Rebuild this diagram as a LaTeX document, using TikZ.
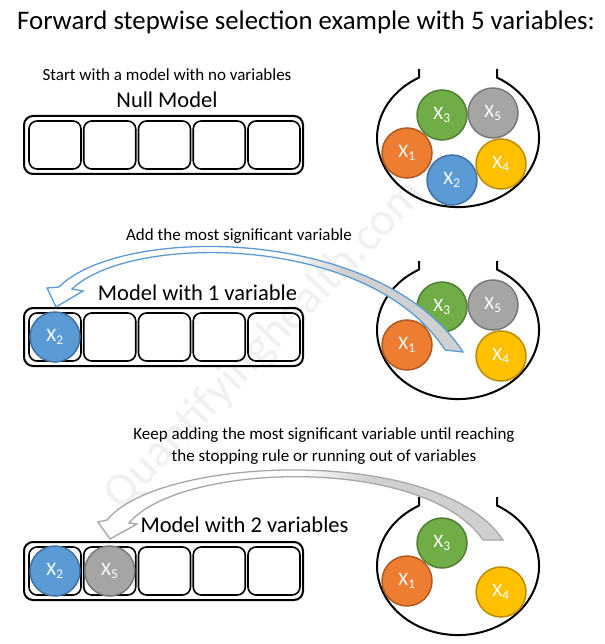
\documentclass[tikz,border=0pt]{standalone}
\usepackage{fontspec}
\setmainfont{Carlito}
\definecolor{xorange}{HTML}{ED7D31}\definecolor{xorangeD}{HTML}{AE5A21}
\definecolor{xblue}{HTML}{5B9BD5}\definecolor{xblueD}{HTML}{41719C}
\definecolor{xgreen}{HTML}{70AD47}\definecolor{xgreenD}{HTML}{507E32}
\definecolor{xgray}{HTML}{A5A5A5}\definecolor{xgrayD}{HTML}{787878}
\definecolor{xyellow}{HTML}{FFC000}\definecolor{xyellowD}{HTML}{BC8C00}
\definecolor{bandgray}{HTML}{D0D0D0}\definecolor{arrgray}{HTML}{A6A6A6}
\tikzset{
  ball/.style={circle, minimum size=50pt, inner sep=0pt, line width=1.5pt, text=white, font=\fontsize{19}{19}\selectfont},
  bx1/.style={ball, fill=xorange, draw=xorangeD},
  bx2/.style={ball, fill=xblue, draw=xblueD},
  bx3/.style={ball, fill=xgreen, draw=xgreenD},
  bx4/.style={ball, fill=xyellow, draw=xyellowD},
  bx5/.style={ball, fill=xgray, draw=xgrayD},
  outerbar/.style={draw, line width=2pt, rounded corners=9pt, minimum width=279pt, minimum height=58pt, inner sep=0pt},
  cell/.style={draw, line width=1.6pt, rounded corners=8pt, minimum width=52pt, minimum height=48pt, inner sep=0pt},
  bagline/.style={line width=2pt},
  smalltxt/.style={inner sep=0pt, font=\fontsize{17}{17}\selectfont},
  modeltxt/.style={inner sep=0pt, font=\fontsize{22.5}{22.5}\selectfont},
}
\begin{document}
\begin{tikzpicture}[x=1pt,y=-1pt]
\useasboundingbox (0,0) rectangle (604,644);
% watermark
\node[rotate=46, text=black!6, inner sep=0pt, font=\fontsize{47}{47}\selectfont] (wm) at (265,345) {Quantifyinghealth.com};
% title and texts
\node[inner sep=0pt, font=\fontsize{26.8}{26.8}\selectfont] (title) at (306,22) {Forward stepwise selection example with 5 variables:};
\node[smalltxt] (t1) at (167,75) {Start with a model with no variables};
\node[modeltxt] (m1lab) at (167,100) {Null Model};
\node[smalltxt] (t2) at (239,236) {Add the most significant variable};
\node[modeltxt] (m2lab) at (197.5,293) {Model with 1 variable};
\node[smalltxt] (t3a) at (324,435) {Keep adding the most significant variable until reaching};
\node[smalltxt] (t3b) at (324,457) {the stopping rule or running out of variables};
\node[modeltxt] (m3lab) at (244.5,525) {Model with 2 variables};
% bars
\foreach \r/\yc in {1/145, 2/337, 3/571}{
  \node[outerbar] (bar\r) at (163.5,\yc) {};
  \foreach \i in {0,...,4}{
    \node[cell] (bar\r c\i) at ({55+54.75*\i},\yc) {};
  }
}
\node[bx2] (s2x2) at (55,337) {X\textsubscript{2}};
\node[bx2] (s3x2) at (55,571) {X\textsubscript{2}};
\node[bx5] (s3x5) at (109.75,571) {X\textsubscript{5}};
% bags
\foreach \d in {0,192,428}{
  \draw[bagline] (419,69+\d) -- (419,77.6+\d) arc[start angle=241.2, end angle=-61.2, x radius=81, y radius=69] -- (497,69+\d);
}
% bag 1
\node[bx3] (a1x3) at (442,115) {X\textsubscript{3}};
\node[bx5] (a1x5) at (493,113) {X\textsubscript{5}};
\node[bx1] (a1x1) at (407,153) {X\textsubscript{1}};
\node[bx2] (a1x2) at (452,180) {X\textsubscript{2}};
\node[bx4] (a1x4) at (501,164) {X\textsubscript{4}};
% bag 2
\node[bx3] (a2x3) at (442,307) {X\textsubscript{3}};
\node[bx5] (a2x5) at (493,305) {X\textsubscript{5}};
\node[bx1] (a2x1) at (407,345) {X\textsubscript{1}};
\node[bx4] (a2x4) at (501,356) {X\textsubscript{4}};
% bag 3
\node[bx3] (a3x3) at (442,543) {X\textsubscript{3}};
\node[bx1] (a3x1) at (407,581) {X\textsubscript{1}};
\node[bx4] (a3x4) at (501,592) {X\textsubscript{4}};
% arrow 1
\path[save path=\arrA] (463,352) .. controls (380,225) and (120,225) .. (59,287) -- (47,288) -- (56,307) -- (83,291) -- (72,289) .. controls (130,233) and (370,233) .. (445,350) -- cycle;
\fill[white, use path=\arrA];
\begin{scope}
  \clip[use path=\arrA];
  \shade[left color=white, right color=bandgray] (290,200) rectangle (345,400);
  \fill[bandgray] (344.5,200) rectangle (604,400);
\end{scope}
\draw[xblue, line width=1.3pt, use path=\arrA];
% arrow 2
\path[save path=\arrB] (503,540) .. controls (440,445) and (160,455) .. (107,520) -- (98,522) -- (110,539) -- (137,524) -- (129,523) .. controls (180,462) and (425,455) .. (483,540) -- cycle;
\fill[white, use path=\arrB];
\begin{scope}
  \clip[use path=\arrB];
  \shade[left color=white, right color=bandgray] (300,420) rectangle (370,600);
  \fill[bandgray] (369.5,420) rectangle (604,600);
\end{scope}
\draw[arrgray, line width=1.3pt, use path=\arrB];
\end{tikzpicture}
\end{document}
